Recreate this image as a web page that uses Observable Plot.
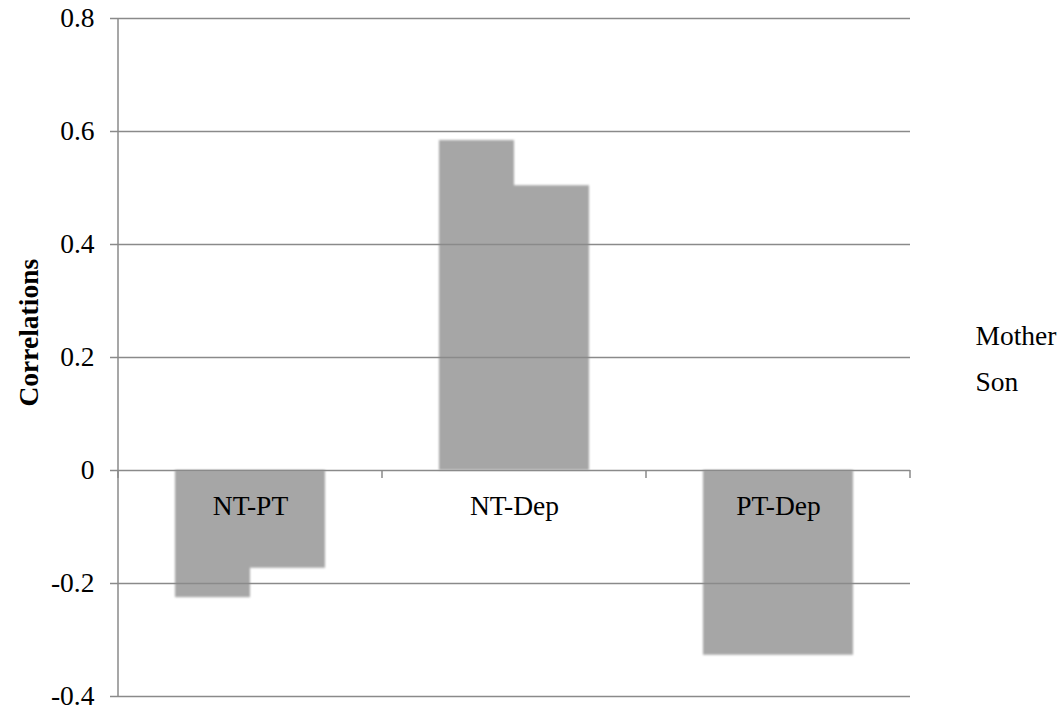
<!DOCTYPE html>
<html>
<head>
<meta charset="utf-8">
<script src="https://cdn.jsdelivr.net/npm/d3@7"></script>
<script src="https://cdn.jsdelivr.net/npm/@observablehq/plot@0.6"></script>
<style>
  html, body { margin: 0; padding: 0; background: #fff; }
  #chart { width: 1062px; height: 715px; }
</style>
</head>
<body>
<div id="chart"></div>
<script>
const categories = ["NT-PT", "NT-Dep", "PT-Dep"];
const series = ["Mother", "Son"];
const motherValues = [-0.225, 0.584, -0.327];
const sonValues = [-0.173, 0.504, -0.327];
const yTicks = [-0.4, -0.2, 0, 0.2, 0.4, 0.6, 0.8];
const yTickLabels = ["-0.4", "-0.2", "0", "0.2", "0.4", "0.6", "0.8"];
const yLabel = "Correlations";

const rows = [];
categories.forEach((c, i) => {
  rows.push({category: c, series: series[0], value: motherValues[i]});
  rows.push({category: c, series: series[1], value: sonValues[i]});
});

const gridColor = "#8a8a8a";
const barColor = "#a6a6a6";
const font = "Liberation Serif, Times New Roman, serif";
const fs = 27.5;

function frameMark(index, scales, values, dims) {
  const x = scales.x, y = scales.y;
  const left = dims.marginLeft, right = dims.width - dims.marginRight;
  const bw = x.bandwidth ? x.bandwidth() : (right - left) / categories.length;
  const g = d3.create("svg:g").attr("stroke", gridColor).attr("stroke-width", 1.5);
  g.append("line").attr("x1", left).attr("x2", left)
    .attr("y1", y(yTicks[yTicks.length - 1])).attr("y2", y(yTicks[0]));
  const bounds = categories.map(c => x(c)).concat([x(categories[categories.length - 1]) + bw]);
  bounds.forEach(b => {
    g.append("line").attr("x1", b).attr("x2", b).attr("y1", y(0)).attr("y2", y(0) + 8);
  });
  return g.node();
}

const chart = Plot.plot({
  width: 1062,
  height: 715,
  marginLeft: 118,
  marginRight: 152,
  marginTop: 18,
  marginBottom: 19,
  style: {fontFamily: font, fontSize: fs + "px", color: "black", background: "white"},
  x: {domain: categories, padding: 0, axis: null},
  y: {domain: [yTicks[0], yTicks[yTicks.length - 1]], axis: null},
  marks: [
    Plot.barY(rows.filter(d => d.series === series[0]), {
      x: "category", y: "value", fill: barColor, insetLeft: 57, insetRight: 132
    }),
    Plot.barY(rows.filter(d => d.series === series[1]), {
      x: "category", y: "value", fill: barColor, insetLeft: 132, insetRight: 57
    }),
    Plot.ruleY(yTicks, {stroke: gridColor, strokeWidth: 1.5}),
    frameMark,
    Plot.axisY(yTicks, {
      tickSize: 8, tickPadding: 16, stroke: gridColor, strokeWidth: 1.5, fill: "black",
      fontSize: fs, fontFamily: font, tickFormat: d => yTickLabels[yTicks.indexOf(d)], label: null
    }),
    Plot.text(categories, {x: d => d, y: 0, dy: 36, fontSize: fs, fontFamily: font, fill: "black"}),
    Plot.text([yLabel], {frameAnchor: "left", rotate: -90, dx: -89, dy: 49,
      fontSize: fs, fontFamily: font, fontWeight: "bold", fill: "black"}),
    Plot.text([series[0]], {frameAnchor: "right", textAnchor: "start", dx: 65, dy: -21,
      fontSize: fs, fontFamily: font, fill: "black"}),
    Plot.text([series[1]], {frameAnchor: "right", textAnchor: "start", dx: 65, dy: 25,
      fontSize: fs, fontFamily: font, fill: "black"})
  ]
});

// Blur both bar series together (soft edges as in the reference)
const barGroups = chart.querySelectorAll('g[aria-label="bar"]');
if (barGroups.length) {
  const wrap = document.createElementNS("http://www.w3.org/2000/svg", "g");
  wrap.style.filter = "blur(1.2px)";
  barGroups[0].parentNode.insertBefore(wrap, barGroups[0]);
  barGroups.forEach(g => wrap.appendChild(g));
}

document.getElementById("chart").appendChild(chart);
</script>
</body>
</html>
